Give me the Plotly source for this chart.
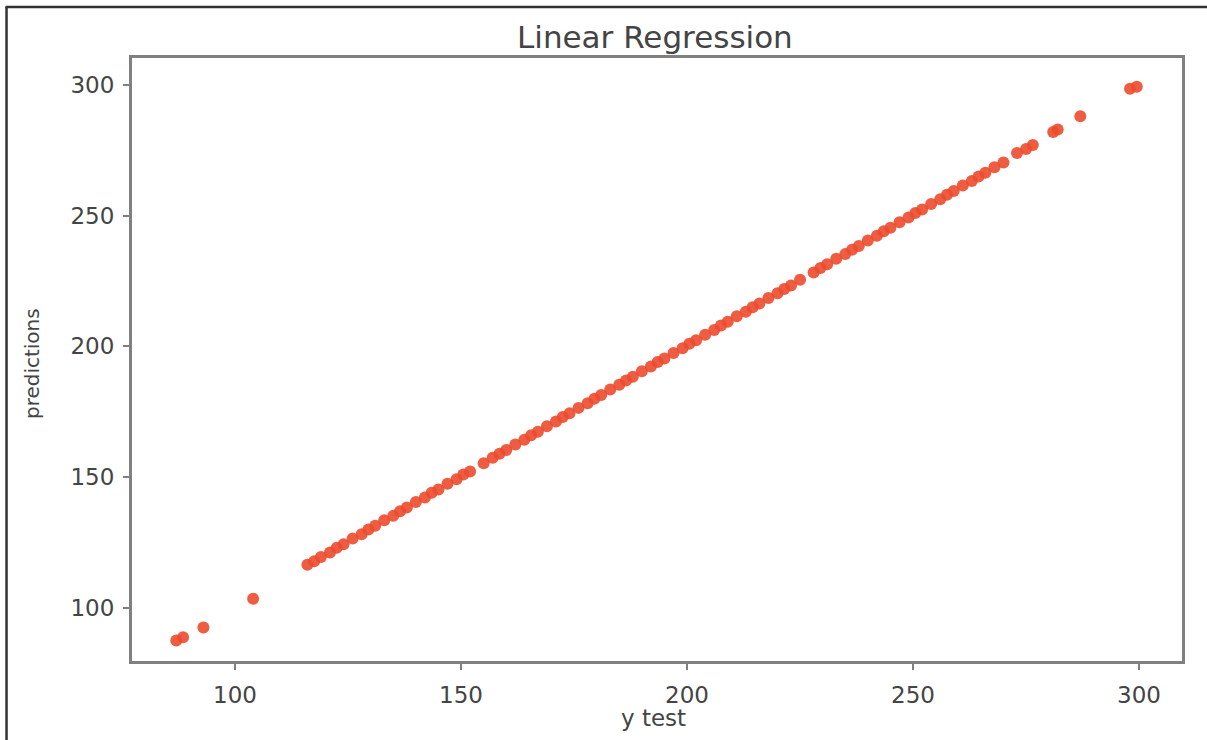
import plotly.graph_objects as go

# ---- data ----
y_test = [87, 88.5, 93, 104, 116, 117.5, 119, 121, 122.5, 124, 126, 128, 129.5, 131,
          133, 135, 136.5, 138, 140, 142, 143.5, 145, 147, 149, 150.5, 152, 155, 157,
          158.5, 160, 162, 164, 165.5, 167, 169, 171, 172.5, 174, 176, 178, 179.5, 181,
          183, 185, 186.5, 188, 190, 192, 193.5, 195, 197, 199, 200.5, 202, 204, 206,
          207.5, 209, 211, 213, 214.5, 216, 218, 220, 221.5, 223, 225, 228, 229.5, 231,
          233, 235, 236.5, 238, 240, 242, 243.5, 245, 247, 249, 250.5, 252, 254, 256,
          257.5, 259, 261, 263, 264.5, 266, 268, 270, 273, 275, 276.5, 281, 282, 287,
          298, 299.5]
predictions = [87.5, 88.8, 92.5, 103.5, 116.5, 117.8, 119.5, 121.2, 123, 124.3, 126.5, 128.2,
               130, 131.4, 133.5, 135.2, 137, 138.4, 140.5, 142.2, 144, 145.3, 147.5, 149.2,
               151, 152.2, 155.3, 157.4, 159, 160.4, 162.5, 164.3, 166, 167.4, 169.5, 171.3,
               173, 174.4, 176.5, 178.3, 180, 181.4, 183.5, 185.3, 187, 188.4, 190.5, 192.3,
               194, 195.4, 197.5, 199.3, 201, 202.4, 204.5, 206.3, 208, 209.4, 211.5, 213.3,
               215, 216.4, 218.5, 220.3, 222, 223.3, 225.5, 228.3, 230, 231.4, 233.5, 235.3,
               237, 238.4, 240.5, 242.3, 244, 245.4, 247.5, 249.3, 251, 252.4, 254.5, 256.3,
               258, 259.4, 261.5, 263.3, 265, 266.4, 268.5, 270.3, 274, 275.5, 277, 282, 283,
               288, 298.5, 299.3]
x_ticks = [100, 150, 200, 250, 300]
y_ticks = [100, 150, 200, 250, 300]

FONT = "DejaVu Sans"
TXT = "#444444"
SPINE = "#808080"

fig = go.Figure()
fig.add_trace(go.Scatter(
    x=y_test, y=predictions, mode="markers",
    marker=dict(color="#ec4a2e", size=12, line=dict(width=0), opacity=0.9),
    hoverinfo="skip", showlegend=False))

axis_common = dict(
    showgrid=False, zeroline=False, showline=True, linecolor=SPINE, linewidth=3,
    mirror=True, ticks="outside", ticklen=6, tickwidth=1.5, tickcolor=SPINE,
    tickfont=dict(family=FONT, size=23, color=TXT))

fig.update_xaxes(range=[77.2, 309.5], tickvals=x_ticks, ticklabelstandoff=5, **axis_common)
fig.update_yaxes(range=[79.7, 310.3], tickvals=y_ticks, ticklabelstandoff=4, **axis_common)

fig.update_layout(
    width=1207, height=740, autosize=False,
    margin=dict(l=132, r=25, t=58, b=79),
    paper_bgcolor="white", plot_bgcolor="white",
    annotations=[
        dict(text="Linear Regression", x=0.498, y=1.0348, xref="paper", yref="paper",
             showarrow=False, xanchor="center", yanchor="middle",
             font=dict(family=FONT, size=31, color=TXT)),
        dict(text="y test", x=0.497, y=-0.0945, xref="paper", yref="paper",
             showarrow=False, xanchor="center", yanchor="middle",
             font=dict(family=FONT, size=23, color=TXT)),
        dict(text="predictions", x=-0.0952, y=0.4925, xref="paper", yref="paper",
             showarrow=False, xanchor="center", yanchor="middle", textangle=-90,
             font=dict(family=FONT, size=20, color=TXT)),
    ],
    shapes=[
        dict(type="line", xref="paper", yref="paper", x0=-0.1195, x1=-0.1195,
             y0=1.0846, y1=-0.14, line=dict(color="#333", width=2.5)),
        dict(type="line", xref="paper", yref="paper", x0=-0.1205, x1=1.03,
             y0=1.0846, y1=1.0846, line=dict(color="#333", width=2.5)),
    ],
)

fig.write_html("out.html")
